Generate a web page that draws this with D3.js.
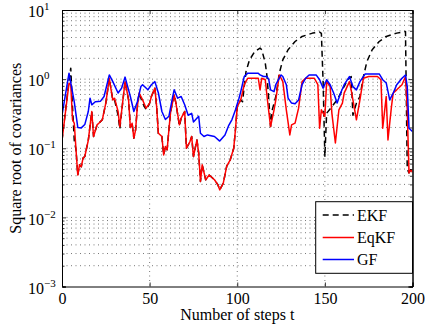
<!DOCTYPE html>
<html>
<head>
<meta charset="utf-8">
<script src="https://cdn.jsdelivr.net/npm/d3@7"></script>
<style>
  body { margin: 0; background: #fff; }
  svg { display: block; font-family: "Liberation Serif", "DejaVu Serif", serif; }
</style>
</head>
<body>
<div id="vis"></div>
<script>
const FRAME_WIDTH = 425;
const FRAME_HEIGHT = 331;
const MARGINS = {left: 62, right: 12.5, top: 10, bottom: 44.5};
const VIS_WIDTH = FRAME_WIDTH - MARGINS.left - MARGINS.right;
const VIS_HEIGHT = FRAME_HEIGHT - MARGINS.top - MARGINS.bottom;

// series: step t and value (square root of covariance)
const EKF_T = [0, 4, 5, 6, 7, 8, 9, 10, 11, 12, 13, 15, 17, 18, 20, 21, 23, 25, 27, 28, 29, 30, 32, 33, 35, 36, 38, 39, 40, 41, 42, 43, 44, 46, 48, 50, 51, 53, 54, 55, 57, 58, 59, 60, 61, 62, 64, 65, 67, 68, 70, 71, 73, 74, 75, 77, 78, 79, 80, 82, 84, 87, 89, 90, 92, 94, 96, 98, 99, 100, 102,
  103, 105, 107, 110, 113, 114, 116, 117, 118, 119, 120, 122, 124, 126, 129, 133, 137, 143, 147, 148, 149, 150, 151, 154, 157, 160, 163, 165, 166, 168, 170, 172, 174, 177, 181, 185, 191, 196, 197, 198, 199, 200];
const EKF_V = [0.13, 0.95, 1.44, 0.40, 0.13, 0.095, 0.041, 0.0575, 0.054, 0.072, 0.076, 0.13, 0.34, 0.148, 0.218, 0.23, 0.258, 0.45, 1.03, 0.70, 0.50, 0.50, 0.30, 0.19, 0.56, 0.92, 0.50, 0.20, 0.23, 0.14, 0.185, 0.40, 0.63, 0.45, 0.36, 0.45, 0.56, 0.74, 0.40, 0.16, 0.148, 0.080, 0.106, 0.095, 0.185, 0.34, 0.59, 0.45, 0.21, 0.273, 0.34, 0.10, 0.125, 0.148, 0.076, 0.132, 0.085, 0.033, 0.0575, 0.035, 0.041, 0.035, 0.0295, 0.025, 0.031, 0.055, 0.068, 0.10, 0.19, 0.40, 0.50,
  0.47, 1.29, 1.90, 2.51, 2.81, 2.66, 1.70, 1.09, 0.50, 0.206, 0.36, 0.56, 1.22, 1.90, 2.66, 3.50, 4.14, 4.63, 4.79, 4.60, 0.90, 0.075, 0.32, 0.40, 0.50, 0.70, 0.98, 1.09, 0.30, 0.45, 0.56, 1.09, 1.80, 2.66, 3.50, 4.14, 4.63, 4.89, 0.05, 0.044, 0.049, 0.045];

const EQKF_T = [0, 4, 5, 6, 7, 8, 9, 10, 11, 12, 13, 15, 17, 18, 20, 21, 23, 25, 27, 28, 29, 30, 32, 33, 35, 36, 38, 39, 40, 41, 42, 43, 44, 46, 48, 50, 51, 53, 54, 55, 57, 58, 59, 60, 61, 62, 64, 65, 67, 68, 70, 71, 73, 74, 75, 77, 78, 79, 80, 82, 84, 87, 89, 90, 92, 94, 96, 98, 99, 100, 102,
  104, 106, 112, 113, 114, 116, 117, 119, 121, 122, 124, 126, 128, 130, 131, 133, 135, 137, 139, 144, 146, 147, 148, 150, 151, 153, 154, 156, 158, 160, 161, 164, 165, 167, 168, 170, 172, 175, 180, 182, 183, 185, 186, 188, 189, 191, 194, 196, 197, 198, 199, 200];
const EQKF_V = [0.13, 0.875, 0.83, 0.26, 0.23, 0.095, 0.041, 0.0575, 0.054, 0.072, 0.076, 0.13, 0.34, 0.148, 0.218, 0.23, 0.258, 0.45, 1.03, 0.70, 0.50, 0.53, 0.34, 0.206, 0.56, 0.92, 0.50, 0.20, 0.23, 0.14, 0.185, 0.40, 0.63, 0.50, 0.38, 0.45, 0.56, 0.74, 0.40, 0.165, 0.148, 0.080, 0.106, 0.095, 0.185, 0.34, 0.59, 0.45, 0.218, 0.273, 0.34, 0.10, 0.125, 0.148, 0.076, 0.132, 0.085, 0.033, 0.0575, 0.035, 0.041, 0.035, 0.0295, 0.025, 0.031, 0.055, 0.068, 0.10, 0.19, 0.40, 0.50,
  0.83, 1.03, 1.03, 0.70, 1.03, 0.98, 0.56, 0.206, 0.36, 0.50, 1.15, 0.92, 0.36, 0.156, 0.218, 0.231, 0.38, 0.92, 1.03, 1.03, 0.83, 0.195, 0.36, 0.288, 0.92, 0.78, 0.32, 0.119, 0.36, 0.45, 0.627, 0.92, 0.70, 0.36, 0.258, 0.50, 1.03, 1.09, 1.09, 0.98, 0.195, 0.56, 0.132, 0.40, 0.63, 0.70, 0.83, 1.09, 0.36, 0.044, 0.049, 0.045];

const GF_T = [0, 4, 7, 9, 11, 13, 15, 16, 17, 19, 22, 24, 27, 29, 32, 34, 36, 39, 41, 43, 45, 46, 49, 51, 53, 55, 57, 59, 61, 63, 64, 66, 68, 70, 72, 74, 75, 78, 79, 81, 83, 87, 90, 93, 95, 97, 99, 101, 102, 104, 106,
  112, 113, 115, 117, 118, 119, 121, 122, 125, 126, 128, 129, 131, 133, 135, 137, 139, 141, 145, 147, 149, 151, 153, 155, 157, 159, 161, 164, 166, 168, 170, 173, 181, 183, 185, 187, 189, 191, 194, 196, 197, 198, 200];
const GF_V = [0.30, 1.22, 0.47, 0.20, 0.197, 0.22, 0.34, 0.53, 0.425, 0.47, 0.48, 0.56, 1.15, 0.92, 0.63, 0.74, 1.07, 0.56, 0.34, 0.47, 0.78, 0.83, 0.70, 0.83, 0.92, 0.63, 0.34, 0.26, 0.29, 0.53, 0.70, 0.53, 0.56, 0.425, 0.30, 0.32, 0.24, 0.29, 0.165, 0.148, 0.156, 0.148, 0.127, 0.156, 0.21, 0.26, 0.36, 0.53, 0.66, 1.09, 1.22,
  1.22, 1.15, 1.09, 1.09, 0.98, 0.70, 0.66, 0.83, 1.15, 1.09, 0.83, 0.53, 0.45, 0.44, 0.50, 0.83, 1.03, 1.15, 1.15, 0.98, 0.74, 0.98, 0.83, 0.63, 0.45, 0.63, 0.83, 1.09, 0.78, 0.70, 0.92, 1.19, 1.19, 0.98, 0.88, 0.50, 0.63, 0.83, 1.03, 1.15, 0.78, 0.195, 0.175];

const SERIES_NAMES = ["EKF", "EqKF", "GF"];
const X_TICKS = [0, 50, 100, 150, 200];
const Y_EXPONENTS = [-3, -2, -1, 0, 1];

const STYLES = {
  EKF: {color: "#000000", dash: "6,4"},
  EqKF: {color: "#ff0000", dash: null},
  GF: {color: "#0000ff", dash: null}
};

const FRAME = d3.select("#vis")
                .append("svg")
                .attr("width", FRAME_WIDTH)
                .attr("height", FRAME_HEIGHT);

const X_SCALE = d3.scaleLinear()
                  .domain([0, 200])
                  .range([MARGINS.left, MARGINS.left + VIS_WIDTH]);

const Y_SCALE = d3.scaleLog()
                  .domain([1e-3, 1e1])
                  .range([MARGINS.top + VIS_HEIGHT, MARGINS.top]);

const Y_MAJOR = Y_EXPONENTS.map((e) => Math.pow(10, e));
const Y_MINOR = [];
Y_EXPONENTS.slice(0, -1).forEach((e) => {
  for (let k = 2; k <= 9; k++) { Y_MINOR.push(k * Math.pow(10, e)); }
});

// grid (dotted)
const GRID = FRAME.append("g");
GRID.selectAll(".ygrid")
    .data(Y_MINOR.concat(Y_MAJOR.slice(1, -1)))
    .enter()
    .append("line")
      .attr("x1", MARGINS.left)
      .attr("x2", MARGINS.left + VIS_WIDTH)
      .attr("y1", (d) => Y_SCALE(d))
      .attr("y2", (d) => Y_SCALE(d))
      .attr("stroke", "#555")
      .attr("stroke-width", 0.8)
      .attr("stroke-dasharray", "1,3.5");

GRID.selectAll(".xgrid")
    .data(X_TICKS.slice(1, -1))
    .enter()
    .append("line")
      .attr("x1", (d) => X_SCALE(d))
      .attr("x2", (d) => X_SCALE(d))
      .attr("y1", MARGINS.top)
      .attr("y2", MARGINS.top + VIS_HEIGHT)
      .attr("stroke", "#555")
      .attr("stroke-width", 0.8)
      .attr("stroke-dasharray", "1,3.5");

// lines
FRAME.append("clipPath").attr("id", "clip")
     .append("rect")
       .attr("x", MARGINS.left).attr("y", MARGINS.top)
       .attr("width", VIS_WIDTH).attr("height", VIS_HEIGHT);

const SERIES = [
  {name: "EKF", t: EKF_T, v: EKF_V},
  {name: "EqKF", t: EQKF_T, v: EQKF_V},
  {name: "GF", t: GF_T, v: GF_V}
];

const LINE = d3.line()
               .x((d) => X_SCALE(d[0]))
               .y((d) => Y_SCALE(d[1]));

FRAME.append("g")
     .attr("clip-path", "url(#clip)")
     .selectAll("path")
     .data(SERIES)
     .enter()
     .append("path")
       .attr("d", (s) => LINE(s.t.map((t, i) => [t, s.v[i]])))
       .attr("fill", "none")
       .attr("stroke", (s) => STYLES[s.name].color)
       .attr("stroke-width", 1.5)
       .attr("stroke-linejoin", "round")
       .attr("stroke-dasharray", (s) => STYLES[s.name].dash);

// axes (ticks point inward)
const X_AXIS = FRAME.append("g")
     .attr("transform", "translate(0," + (MARGINS.top + VIS_HEIGHT) + ")")
     .call(d3.axisBottom(X_SCALE).tickValues(X_TICKS).tickSize(-4).tickPadding(6).tickFormat(d3.format("d")));

FRAME.append("g")
     .attr("transform", "translate(0," + MARGINS.top + ")")
     .call(d3.axisTop(X_SCALE).tickValues(X_TICKS).tickSize(-4).tickFormat(""));

const Y_AXIS = FRAME.append("g")
     .attr("transform", "translate(" + MARGINS.left + ",0)")
     .call(d3.axisLeft(Y_SCALE).tickValues(Y_MAJOR).tickSize(-4).tickFormat(""));

FRAME.append("g")
     .attr("transform", "translate(" + MARGINS.left + ",0)")
     .call(d3.axisLeft(Y_SCALE).tickValues(Y_MINOR).tickSize(-2.5).tickFormat(""));

FRAME.append("g")
     .attr("transform", "translate(" + (MARGINS.left + VIS_WIDTH) + ",0)")
     .call(d3.axisRight(Y_SCALE).tickValues(Y_MAJOR).tickSize(-4).tickFormat(""));

FRAME.append("g")
     .attr("transform", "translate(" + (MARGINS.left + VIS_WIDTH) + ",0)")
     .call(d3.axisRight(Y_SCALE).tickValues(Y_MINOR).tickSize(-2.5).tickFormat(""));

FRAME.selectAll(".domain").attr("stroke", "#000").attr("stroke-width", 1);
FRAME.selectAll(".tick line").attr("stroke", "#000").attr("stroke-width", 0.8);

X_AXIS.selectAll("text")
      .attr("font-size", "16px")
      .attr("font-family", "Liberation Serif")
      .attr("fill", "#000");

// y tick labels as 10 with superscript exponent
Y_AXIS.selectAll(".tick text").remove();
Y_AXIS.selectAll(".tick")
      .append("text")
        .attr("x", 28 - MARGINS.left)
        .attr("dy", "0.42em")
        .attr("text-anchor", "start")
        .attr("font-size", "16px")
        .attr("font-family", "Liberation Serif")
        .attr("fill", "#000")
        .each(function(d) {
          const t = d3.select(this);
          t.append("tspan").text("10");
          t.append("tspan")
           .attr("dy", -7)
           .attr("font-size", "11px")
           .text(String(Math.round(Math.log10(d))).replace("-", "\u2212"));
        });

// axis titles
FRAME.append("text")
     .attr("x", MARGINS.left + VIS_WIDTH / 2)
     .attr("y", 319.5)
     .attr("text-anchor", "middle")
     .attr("font-size", "16px")
     .text("Number of steps t");

FRAME.append("text")
     .attr("transform", "translate(21," + (MARGINS.top + VIS_HEIGHT / 2) + ") rotate(-90)")
     .attr("text-anchor", "middle")
     .attr("font-size", "16px")
     .text("Square root of covariances");

// legend
const LEGEND = FRAME.append("g");
LEGEND.append("rect")
      .attr("x", 315.7)
      .attr("y", 201.7)
      .attr("width", MARGINS.left + VIS_WIDTH - 315.7)
      .attr("height", 71.6)
      .attr("fill", "#fff")
      .attr("stroke", "#000")
      .attr("stroke-width", 1);

const LEG_ROWS = [215, 237.5, 259.5];
SERIES_NAMES.forEach((name, i) => {
  LEGEND.append("line")
        .attr("x1", 322.7).attr("x2", 354)
        .attr("y1", LEG_ROWS[i]).attr("y2", LEG_ROWS[i])
        .attr("stroke", STYLES[name].color)
        .attr("stroke-width", 1.5)
        .attr("stroke-dasharray", STYLES[name].dash);
  LEGEND.append("text")
        .attr("x", 357)
        .attr("y", LEG_ROWS[i] + 5.5)
        .attr("font-size", "16px")
        .text(name);
});
</script>
</body>
</html>
